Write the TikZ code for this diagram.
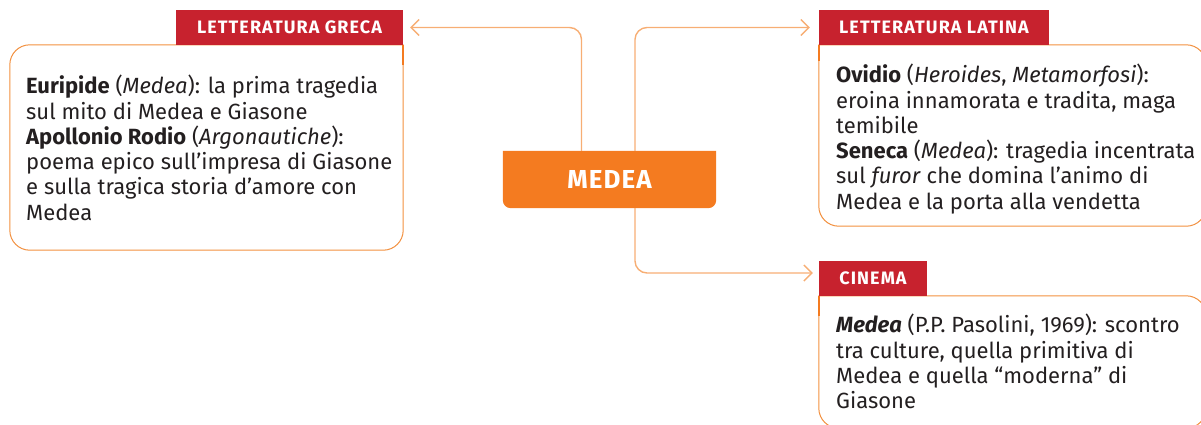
\documentclass[tikz,border=0pt]{standalone}
\usepackage{fontspec}
\setmainfont{Fira Sans}
\usetikzlibrary{arrows.meta,backgrounds}

\definecolor{tagred}{HTML}{C7222E}
\definecolor{medeaorange}{HTML}{F47B20}
\definecolor{linkorange}{HTML}{F7AE74}
\definecolor{frameorange}{HTML}{F2903F}
\definecolor{inkgray}{HTML}{231F20}

\tikzset{
  tag/.style={fill=tagred, text=white, minimum height=35pt, inner sep=0pt,
    font=\fontsize{18}{20}\selectfont\bfseries\addfontfeature{LetterSpace=6}},
  box/.style={minimum width=387pt, inner sep=0pt},
  frame/.style={draw=frameorange, line width=1pt},
  tagedge/.style={draw=medeaorange, line width=2pt},
  bodytext/.style={text=inkgray, font=\fontsize{22}{25.3}\selectfont, align=left,
    anchor=north west, inner sep=0pt},
  link/.style={draw=linkorange, line width=1.4pt, rounded corners=12pt,
    -{Straight Barb[length=8pt,width=16pt]}},
}

\begin{document}
\begin{tikzpicture}[x=1pt,y=-1pt]
\useasboundingbox (0,0) rectangle (1201,424);

% centre
\node[minimum width=213pt, minimum height=57pt, inner sep=0pt, text=white,
  font=\fontsize{26}{26}\selectfont\bfseries\addfontfeature{LetterSpace=4}] (medea) at (609.5,179.5) {MEDEA};
\begin{scope}[on background layer]
  \fill[medeaorange] (medea.north west) -- (medea.north east) [rounded corners=8pt]
    -- (medea.south east) -- (medea.south west) [sharp corners] -- cycle;
\end{scope}

% boxes
\node[box, minimum width=393pt, minimum height=205pt] (grecaBox) at (206.5,147.5) {};
\node[box, minimum height=181pt] (latinaBox) at (1012.5,135.5) {};
\node[box, minimum height=132pt] (cinemaBox) at (1012.5,362) {};

\draw[frame] (grecaBox.north) -- (grecaBox.north east) [rounded corners=20pt]
  -- (grecaBox.south east) -- (grecaBox.south west) -- (grecaBox.north west) -- cycle;
\draw[frame] (latinaBox.north) [rounded corners=20pt] -- (latinaBox.north east)
  -- (latinaBox.south east) -- (latinaBox.south west) [sharp corners] -- (latinaBox.north west) -- cycle;
\draw[frame] (cinemaBox.north) [rounded corners=20pt] -- (cinemaBox.north east)
  -- (cinemaBox.south east) -- (cinemaBox.south west) [sharp corners] -- (cinemaBox.north west) -- cycle;

% tags
\node[tag, minimum width=227pt] (grecaTag) at (289.5,27.5) {LETTERATURA GRECA};
\node[tag, minimum width=230pt] (latinaTag) at (934,27.5) {LETTERATURA LATINA};
\node[tag, minimum width=108pt] (cinemaTag) at (873,278.5) {CINEMA};

\draw[tagedge] (grecaTag.south east) -- ++(0,20);
\draw[tagedge] (latinaTag.south west) -- ++(0,16);
\draw[tagedge] (cinemaTag.south west) -- ++(0,20);

% texts
\node[bodytext] (grecaText) at (26,75) {\textbf{Euripide} (\textit{Medea}): la prima tragedia\\
  sul mito di Medea e Giasone\\
  \textbf{Apollonio Rodio} (\textit{Argonautiche}):\\
  poema epico sull’impresa di Giasone\\
  e sulla tragica storia d’amore con\\
  Medea};
\node[bodytext] (latinaText) at (836,64) {\textbf{Ovidio} (\textit{Heroides}, \textit{Metamorfosi}):\\
  eroina innamorata e tradita, maga\\
  temibile\\
  \textbf{Seneca} (\textit{Medea}): tragedia incentrata\\
  sul \textit{furor} che domina l’animo di\\
  Medea e la porta alla vendetta};
\node[bodytext] (cinemaText) at (836,314) {\textbf{\textit{Medea}} (P.P. Pasolini, 1969): scontro\\
  tra culture, quella primitiva di\\
  Medea e quella “moderna” di\\
  Giasone};

% links
\draw[link, shorten >=7pt] ([xshift=-28pt]medea.north) |- (grecaTag.east);
\draw[link, shorten >=9pt] ([xshift=25.5pt]medea.north) |- (latinaTag.west);
\draw[link, shorten >=6pt] ([xshift=25.5pt]medea.south) |- ([yshift=5.5pt]cinemaTag.west);
\end{tikzpicture}
\end{document}
